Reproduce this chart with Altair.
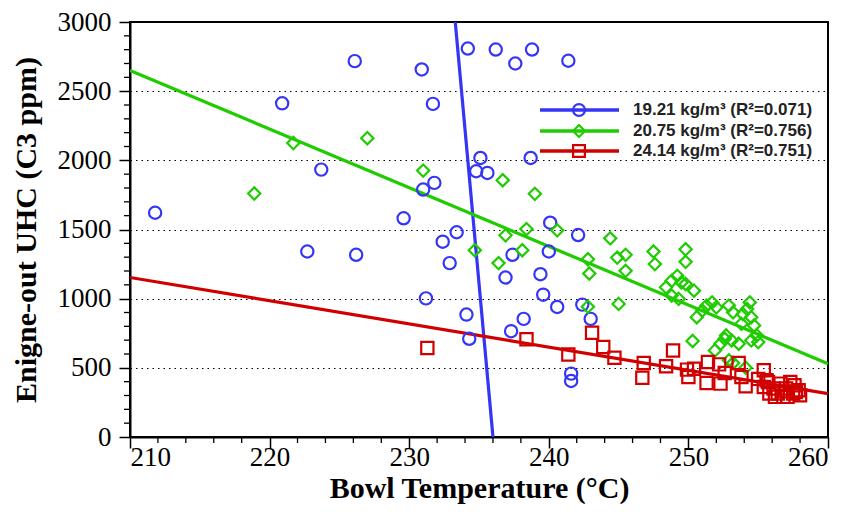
import altair as alt
import pandas as pd
import numpy as np

# ---- data ----
series_names = ["19.21 kg/m³ (R²=0.071)", "20.75 kg/m³ (R²=0.756)", "24.14 kg/m³ (R²=0.751)"]
series_colors = ["#3535F5", "#1FCC00", "#D00000"]
series_shapes = ["circle", "diamond", "square"]

blue_T = [211.8, 220.9, 223.7, 226.1, 230.9, 231.7, 229.6, 231.0, 231.8, 234.2, 236.2, 237.6, 238.8,
          241.4, 235.1, 234.8, 235.6, 238.7, 233.4, 240.1, 222.7, 226.2, 231.2, 232.4, 232.9, 234.1,
          234.3, 240.0, 237.4, 236.9, 239.4, 239.6, 240.6, 238.2, 237.3, 242.1, 242.4, 243.0, 241.6, 241.6]
blue_V = [1621, 2412, 1933, 2717, 2657, 2408, 1581, 1789, 1837, 2808, 2801, 2700, 2801,
          2720, 2017, 1921, 1909, 2017, 1480, 1549, 1341, 1317, 1002, 1412, 1257, 885,
          710, 1341, 1317, 1153, 1177, 1029, 940, 854, 765, 1460, 957, 854, 458, 405]

green_T = [218.9, 221.7, 227.0, 231.0, 236.7, 239.0, 238.4, 234.7, 236.9, 238.1, 236.4, 240.6,
           244.4, 242.8, 242.9, 244.9, 245.5, 245.5, 247.5, 247.6, 249.8, 249.8, 242.8, 245.0,
           248.4, 248.8, 249.2, 249.5, 248.8, 249.3, 249.8, 250.4, 250.6, 251.0, 251.3, 251.7,
           252.0, 252.9, 253.2, 253.9, 254.4, 254.2, 254.5, 254.7, 253.8, 254.9, 254.5, 255.0,
           252.7, 253.1, 253.6, 252.3, 252.6, 251.9, 250.3, 253.2, 254.1, 252.9]
green_V = [1760, 2125, 2160, 1926, 1856, 1758, 1503, 1350, 1458, 1350, 1257, 1494,
           1436, 1285, 1182, 1297, 1317, 1201, 1341, 1250, 1357, 1266, 942, 962,
           1082, 1129, 1165, 1117, 1022, 998, 1106, 1058, 866, 914, 950, 973,
           937, 950, 901, 889, 973, 925, 866, 806, 818, 734, 698, 686,
           734, 698, 674, 674, 710, 626, 694, 535, 501, 554]

red_T = [231.3, 238.4, 241.4, 243.1, 243.9, 244.7, 246.8, 246.7, 248.4, 248.9, 249.9, 250.0,
         250.4, 251.4, 252.2, 251.3, 252.3, 252.6, 253.6, 253.8, 254.1, 255.4, 255.6, 255.4,
         255.8, 256.2, 256.6, 257.0, 257.5, 257.9, 257.3, 256.8, 256.1, 255.7, 257.6, 256.4,
         257.1, 258.0, 255.0, 256.9, 257.7]
red_V = [643, 706, 597, 753, 650, 573, 535, 429, 511, 626, 487, 434,
         494, 542, 525, 391, 386, 463, 535, 434, 367, 482, 410, 362,
         314, 290, 386, 350, 314, 338, 398, 290, 350, 398, 374, 314,
         290, 302, 420, 330, 326]

# fit lines: V = intercept + slope * T
fit_intercepts = [262196.0, 11554.0, 4676.8]
fit_slopes = [-1111.0, -42.4, -16.78]

x_major = list(range(210, 261, 10))
x_minor = [v for v in range(210, 261, 2) if v % 10 != 0]
y_major = list(range(0, 3001, 500))
y_minor = [v for v in range(0, 3001, 100) if v % 500 != 0]

# ---- tables ----
pts = pd.concat([
    pd.DataFrame({"T": blue_T, "V": blue_V, "series": series_names[0]}),
    pd.DataFrame({"T": green_T, "V": green_V, "series": series_names[1]}),
    pd.DataFrame({"T": red_T, "V": red_V, "series": series_names[2]}),
])

fit_rows = []
for name, a, b in zip(series_names, fit_intercepts, fit_slopes):
    t_lo, t_hi = 210.0, 260.0
    t_top = (3000 - a) / b
    t_bot = (0 - a) / b
    t_lo = max(t_lo, min(t_top, t_bot))
    t_hi = min(t_hi, max(t_top, t_bot))
    for t in (t_lo, t_hi):
        fit_rows.append({"T": t, "V": a + b * t, "series": name})
fits = pd.DataFrame(fit_rows)

color_scale = alt.Scale(domain=series_names, range=series_colors)
shape_scale = alt.Scale(domain=series_names, range=series_shapes)

serif = "Liberation Serif, Times New Roman, serif"

x_enc = alt.X("T:Q", scale=alt.Scale(domain=[210, 260], nice=False, zero=False),
              axis=alt.Axis(title="Bowl Temperature (°C)", values=x_major, format="d",
                            labelOverlap=False, tickSize=11, labelPadding=-4,
                            grid=False, titlePadding=3))
y_enc = alt.Y("V:Q", scale=alt.Scale(domain=[0, 3000], nice=False),
              axis=alt.Axis(title="Enigne-out UHC (C3 ppm)", values=y_major, format="d",
                            labelOverlap=False, tickSize=11, labelPadding=8,
                            grid=True, titlePadding=16))

lines = alt.Chart(fits).mark_line(strokeWidth=3.2, clip=True).encode(
    x=x_enc, y=y_enc,
    color=alt.Color("series:N", scale=color_scale, legend=None),
    detail="series:N",
)

points = alt.Chart(pts).mark_point(filled=False, strokeWidth=2.2, opacity=1, size=150).encode(
    x="T:Q", y="V:Q",
    color=alt.Color("series:N", scale=color_scale, legend=None),
    shape=alt.Shape("series:N", scale=shape_scale, legend=None),
)

# minor ticks
ymin_df = pd.DataFrame({"V": y_minor})
xmin_df = pd.DataFrame({"T": x_minor})
y_minor_ticks = alt.Chart(ymin_df).mark_rule(color="black", strokeWidth=1.3).encode(
    y="V:Q", x=alt.value(-6), x2=alt.value(0))
x_minor_ticks = alt.Chart(xmin_df).mark_rule(color="black", strokeWidth=1.3).encode(
    x="T:Q", y=alt.value(415), y2=alt.value(421))

# manual legend (inside the plot, top-right)
legend_layers = []
legend_y = [88, 109, 129]
for name, col, shp, yy in zip(series_names, series_colors, series_shapes, legend_y):
    d = pd.DataFrame({"label": [name]})
    legend_layers.append(alt.Chart(d).mark_rule(color=col, strokeWidth=3.5).encode(
        x=alt.value(410), x2=alt.value(489), y=alt.value(yy)))
    legend_layers.append(alt.Chart(d).mark_point(color=col, shape=shp, filled=False, strokeWidth=2.2, size=140, opacity=1).encode(
        x=alt.value(449), y=alt.value(yy)))
    legend_layers.append(alt.Chart(d).mark_text(align="left", baseline="middle", font="Liberation Sans",
                                                 fontWeight="bold", fontSize=17, color="#222222").encode(
        x=alt.value(503), y=alt.value(yy), text="label:N"))

chart = alt.layer(lines, points, y_minor_ticks, x_minor_ticks, *legend_layers).properties(
    width=698, height=415,
    autosize=alt.AutoSizeParams(type="none"),
    padding={"left": 122, "top": 14, "right": 19, "bottom": 67},
).configure_view(
    stroke="black", strokeWidth=2
).configure_axis(
    labelFont=serif, labelFontSize=27, labelColor="black",
    titleFont=serif, titleFontSize=30, titleFontWeight="bold", titleColor="black",
    domainColor="black", domainWidth=2, tickColor="black", tickWidth=1.5,
    gridColor="black", gridDash=[1.5, 4], gridWidth=1.2,
)

chart.save("out.html", embed_options={"renderer": "svg", "actions": False})
